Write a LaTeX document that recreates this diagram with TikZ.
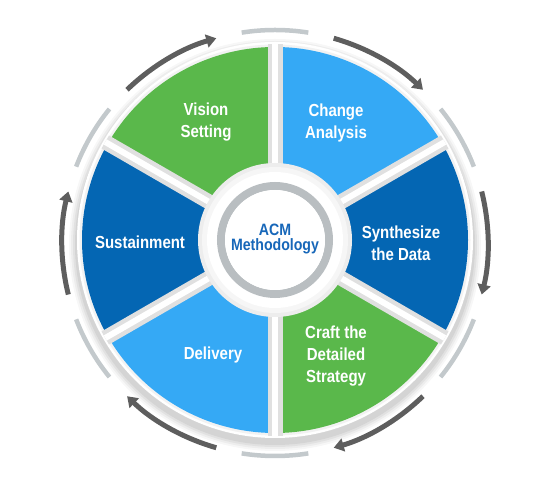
\documentclass[tikz,border=0pt]{standalone}
\usepackage{fontspec}
\setmainfont{Liberation Sans}[FakeStretch=0.86]
\usetikzlibrary{arrows.meta}
\definecolor{segGreen}{HTML}{5AB84B}
\definecolor{segLight}{HTML}{35A9F5}
\definecolor{segDark}{HTML}{0466B3}
\definecolor{acmBlue}{HTML}{1767B9}
\definecolor{arrGray}{HTML}{5E5E5E}
\definecolor{arcGray}{HTML}{C3C9CC}
\definecolor{ringGray}{HTML}{B9BEC1}
\definecolor{divGray}{HTML}{E0E0E0}
\begin{document}
\begin{tikzpicture}[x=1bp,y=1bp,
  seglabel/.style={text=white,align=center,font=\bfseries\fontsize{17.5}{22}\selectfont},
  cyclearrow/.style={arrGray,line width=5bp,-{Triangle[length=10bp,width=13bp]}},
  gaparc/.style={arcGray,line width=4.5bp}]
\useasboundingbox (0,0) rectangle (550,480);
\begin{scope}[shift={(275,240)}]
  % soft shadow and rim
  \foreach \r/\o in {206/0.03,204/0.04,202/0.05,200/0.06}
    \fill[black,opacity=\o] (0,-5) circle (\r);
  \fill[white] (0,0) circle (198);
  \fill[gray!10] (0,0) circle (195.5);
  % sectors
  \fill[segGreen] (0,0) -- (90:193) arc[start angle=90,end angle=150,radius=193] -- cycle;
  \fill[segLight] (0,0) -- (30:193) arc[start angle=30,end angle=90,radius=193] -- cycle;
  \fill[segDark] (0,0) -- (-30:193) arc[start angle=-30,end angle=30,radius=193] -- cycle;
  \fill[segGreen] (0,0) -- (-90:193) arc[start angle=-90,end angle=-30,radius=193] -- cycle;
  \fill[segLight] (0,0) -- (210:193) arc[start angle=210,end angle=270,radius=193] -- cycle;
  \fill[segDark] (0,0) -- (150:193) arc[start angle=150,end angle=210,radius=193] -- cycle;
  % dividers
  \foreach \a in {30,90,150,210,270,330} {
    \draw[divGray,line width=15bp] (\a:60) -- (\a:196);
    \draw[white,line width=6bp] (\a:60) -- (\a:196);
  }
  % hub
  \fill[gray!14] (0,0) circle (77);
  \fill[gray!7] (0,0) circle (73);
  \fill[white] (0,0) circle (68);
  \draw[ringGray,line width=8bp] (0,0) circle (54);
  \fill[white] (0,0) circle (50);
  % outer cycle arrows and arcs
  \begin{scope}[shift={(0,-3)}]
    \foreach \c in {120,60,0,-60,-120,180}
      \draw[cyclearrow] (\c+14:213) arc[start angle=\c+14,end angle=\c-14,radius=213];
    \foreach \c in {90,30,-30,-90,-150,150}
      \draw[gaparc] (\c+9:213) arc[start angle=\c+9,end angle=\c-9,radius=213];
  \end{scope}
  % labels
  \node[text=acmBlue,align=center,font=\bfseries\fontsize{16.5}{15}\selectfont] (acm) at (0,1) {ACM\\Methodology};
  \node[seglabel] (vision) at (-69,118) {Vision\\Setting};
  \node[seglabel] (change) at (61,117) {Change\\Analysis};
  \node[seglabel] (synth) at (126,-3) {Synthesize\\the Data};
  \node[seglabel] (craft) at (61,-116) {Craft the\\Detailed\\Strategy};
  \node[seglabel] (delivery) at (-62,-115) {Delivery};
  \node[seglabel] (sustain) at (-135,-2) {Sustainment};
\end{scope}
\end{tikzpicture}
\end{document}
